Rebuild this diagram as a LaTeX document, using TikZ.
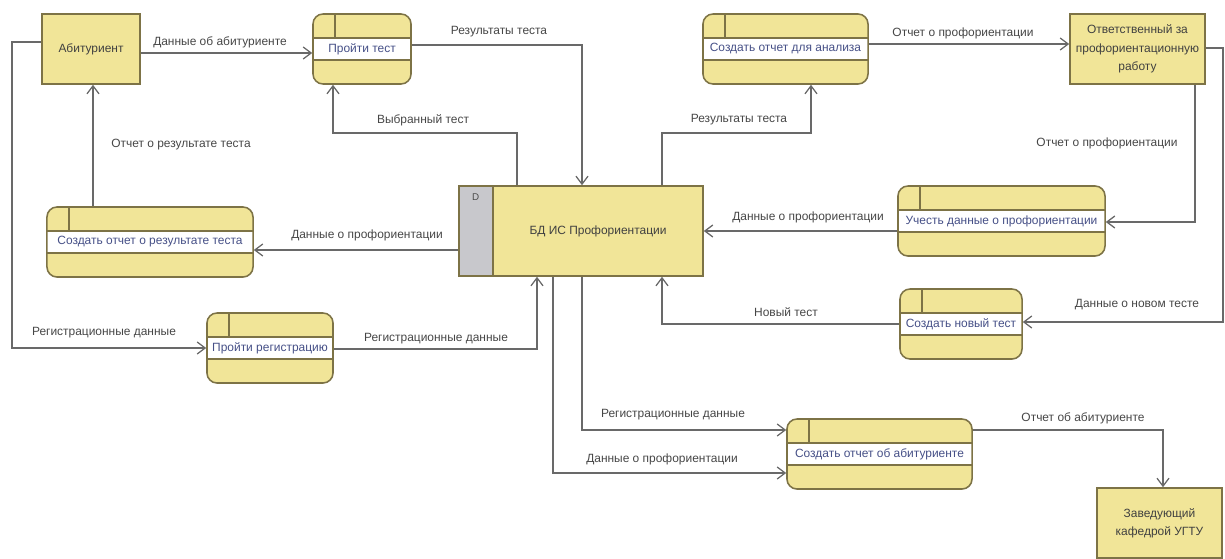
\documentclass[tikz,border=0pt]{standalone}
\usepackage{fontspec}
\setmainfont{Liberation Sans}
\usetikzlibrary{arrows.meta}
\definecolor{boxfill}{RGB}{241,229,152}
\definecolor{boxline}{RGB}{125,115,70}
\definecolor{storegray}{RGB}{200,200,204}
\definecolor{flowline}{RGB}{105,105,105}
\definecolor{bandtext}{RGB}{70,80,135}
\definecolor{lbltext}{RGB}{70,70,70}
\tikzset{
	entity/.style={draw=boxline, fill=boxfill, line width=1.1pt, minimum height=1.75cm, inner sep=0pt, align=center, text=black!75, font=\fontsize{8.5}{13}\selectfont},
	process/.style={draw=boxline, fill=boxfill, line width=1.1pt, rounded corners=2.5mm, minimum height=1.75cm, inner sep=0pt, text=bandtext, font=\fontsize{8.5}{10}\selectfont,
		path picture={
			\fill[white, sharp corners] ([yshift=0.27cm]path picture bounding box.west) rectangle ([yshift=-0.27cm]path picture bounding box.east);
			\draw[boxline, line width=1.1pt, sharp corners] ([yshift=0.27cm]path picture bounding box.west) -- ([yshift=0.27cm]path picture bounding box.east);
			\draw[boxline, line width=1.1pt, sharp corners] ([yshift=-0.27cm]path picture bounding box.west) -- ([yshift=-0.27cm]path picture bounding box.east);
			\draw[boxline, line width=1.1pt, sharp corners] ([xshift=0.55cm]path picture bounding box.north west) -- ([xshift=0.55cm, yshift=0.27cm]path picture bounding box.west);
		}},
	store/.style={draw=boxline, fill=boxfill, line width=1.1pt, minimum width=6.1cm, minimum height=2.25cm, inner sep=0pt, text=black!75, font=\fontsize{8.5}{10}\selectfont,
		path picture={
			\fill[storegray] (path picture bounding box.north west) rectangle ([xshift=0.85cm]path picture bounding box.south west);
			\draw[boxline, line width=1.1pt] ([xshift=0.85cm]path picture bounding box.north west) -- ([xshift=0.85cm]path picture bounding box.south west);
			\node[font=\fontsize{7}{8}\selectfont, text=black!70] (dmark) at ([xshift=0.42cm, yshift=-0.28cm]path picture bounding box.north west) {D};
		}},
	flow/.style={draw=flowline, line width=0.9pt, -{Straight Barb[length=2mm, width=3mm]}},
	lbl/.style={text=lbltext, font=\fontsize{8.5}{10}\selectfont, inner sep=0pt}
}
\begin{document}
\begin{tikzpicture}[x=0.025cm, y=-0.025cm]
	\useasboundingbox (0,0) rectangle (1225,559);
	\node[entity, minimum width=2.45cm] (abit) at (91,49) {Абитуриент};
	\node[entity, minimum width=3.375cm] (otv) at (1137.5,49) {Ответственный за\\профориентационную\\работу};
	\node[entity, minimum width=3.125cm] (zav) at (1159.5,523) {Заведующий\\кафедрой УГТУ};
	\node[process, minimum width=2.45cm] (test) at (362,49) {Пройти тест};
	\node[process, minimum width=4.125cm] (anal) at (785.5,49) {Создать отчет для анализа};
	\node[process, minimum width=5.15cm] (res) at (150,242) {Создать отчет о результате теста};
	\node[process, minimum width=5.175cm] (uchet) at (1001.5,221) {Учесть данные о профориентации};
	\node[process, minimum width=3.05cm] (newt) at (961,324) {Создать новый тест};
	\node[process, minimum width=3.15cm] (reg) at (270,348) {Пройти регистрацию};
	\node[process, minimum width=4.625cm] (abrep) at (879.5,454) {Создать отчет об абитуриенте};
	\node[store] (db) at (581,231) {\hspace*{0.85cm}БД ИС Профориентации};
	\draw[flow] (abit.east |- 0,53) -- (test.west |- 0,53);
	\draw[flow] (test.east |- 0,45) -| (582,0 |- db.north);
	\draw[flow] (517,0 |- db.north) |- (333,133) -- (333,0 |- test.south);
	\draw[flow] (662,0 |- db.north) |- (811,133) -- (811,0 |- anal.south);
	\draw[flow] (anal.east |- 0,44) -- (otv.west |- 0,44);
	\draw[flow] (1195,0 |- otv.south) |- (uchet.east |- 0,222);
	\draw[flow] (uchet.west |- 0,231) -- (db.east |- 0,231);
	\draw[flow] (otv.east |- 0,48) -| (1223,322) -- (newt.east |- 0,322);
	\draw[flow] (newt.west |- 0,324) -| (662,0 |- db.south);
	\draw[flow] (db.west |- 0,250) -- (res.east |- 0,250);
	\draw[flow] (93,0 |- res.north) -- (93,0 |- abit.south);
	\draw[flow] (abit.west |- 0,42) -| (12,348) -- (reg.west |- 0,348);
	\draw[flow] (reg.east |- 0,349) -| (537,0 |- db.south);
	\draw[flow] (582,0 |- db.south) |- (abrep.west |- 0,430);
	\draw[flow] (553,0 |- db.south) |- (abrep.west |- 0,473);
	\draw[flow] (abrep.east |- 0,430) -| (1163,0 |- zav.north);
	\foreach \x/\y/\t [count=\i] in {
		220/42/Данные об абитуриенте,
		499/32/Результаты теста,
		423/120/Выбранный тест,
		739/120/Результаты теста,
		963/33/Отчет о профориентации,
		1107/143/Отчет о профориентации,
		808/217/Данные о профориентации,
		1137/305/Данные о новом тесте,
		786/312/Новый тест,
		367/235/Данные о профориентации,
		181/145/Отчет о результате теста,
		104/333/Регистрационные данные,
		436/339/Регистрационные данные,
		673/415/Регистрационные данные,
		662/459/Данные о профориентации,
		1083/418/Отчет об абитуриенте}{
		\node[lbl] (lbl\i) at (\x,\y) {\t};
	}
\end{tikzpicture}
\end{document}
